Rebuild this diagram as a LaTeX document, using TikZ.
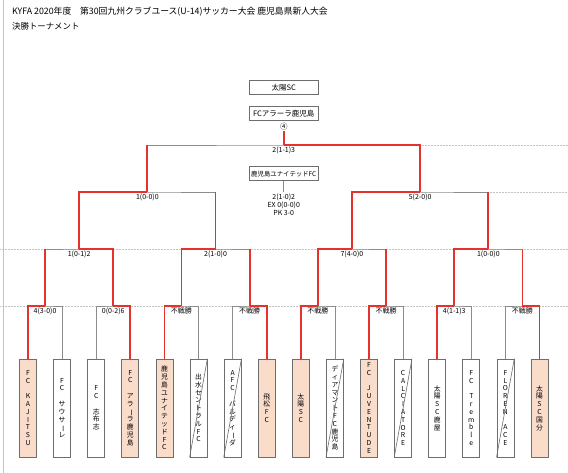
\documentclass[tikz,border=0pt]{standalone}
\usepackage{fontspec}
\setmainfont{Noto Sans CJK JP}
\usetikzlibrary{positioning}
\definecolor{winred}{HTML}{E5322D}
\definecolor{linegray}{HTML}{8C8C8C}
\definecolor{boxgray}{HTML}{6E6E6E}
\definecolor{peach}{HTML}{FADCCB}
\definecolor{gridgray}{HTML}{C4C4C4}
\newcommand\chouon{\rotatebox[origin=c]{-90}{ー}}
\tikzset{
  teambox/.style={draw=boxgray,line width=0.8pt,minimum width=17pt,minimum height=98pt,inner sep=0pt,align=center,font=\fontsize{6.8}{7.8}\selectfont},
  topbox/.style={draw=boxgray,line width=1pt,fill=white,minimum width=69pt,minimum height=14pt,inner sep=1pt,font=\fontsize{7.5}{8}\selectfont},
  score/.style={font=\fontsize{7}{8}\selectfont,inner sep=1.5pt,align=center},
  win/.style={draw=winred,line width=1.8pt},
  lose/.style={draw=linegray,line width=0.8pt},
  gridline/.style={draw=gridgray,line width=0.5pt,densely dotted}
}
\begin{document}
\begin{tikzpicture}[x=1pt,y=-1pt]
    \useasboundingbox (0,0) rectangle (568,473);
    \draw[gridgray,line width=0.6pt] (3,0) -- (3,473);
    \draw[gridline] (0,249) -- (568,249);
    \draw[gridline] (0,306) -- (568,306);
    \draw[gridline] (420,145) -- (568,145);
    \draw[gridline] (488,192) -- (568,192);

    \node[anchor=west,inner sep=0pt,font=\fontsize{8.8}{10}\selectfont] (title) at (12,12) {KYFA 2020年度　第30回九州クラブユース(U-14)サッカー大会 鹿児島県新人大会};
    \node[anchor=west,inner sep=0pt,font=\fontsize{8.4}{10}\selectfont] (subtitle) at (12,26) {決勝トーナメント};

    \foreach \f/\s/\t [count=\i] in {
      peach/0/{F\\C\\~\\K\\A\\J\\I\\T\\S\\U},
      white/0/{F\\C\\~\\サ\\ウ\\サ\\\chouon\\レ},
      white/0/{F\\C\\~\\志\\布\\志},
      peach/0/{F\\C\\~\\ア\\ラ\\\chouon\\ラ\\鹿\\児\\島},
      peach/0/{鹿\\児\\島\\ユ\\ナ\\イ\\テ\\ッ\\ド\\F\\C},
      white/1/{出\\水\\セ\\ン\\ト\\ラ\\ル\\F\\C},
      white/1/{A\\F\\C\\~\\バ\\ル\\デ\\ィ\\\chouon\\ダ},
      peach/0/{飛\\松\\F\\C},
      peach/0/{太\\陽\\S\\C},
      white/1/{デ\\ィ\\ア\\マ\\ン\\ト\\F\\C\\鹿\\児\\島},
      peach/0/{F\\C\\~\\J\\U\\V\\E\\N\\T\\U\\D\\E},
      white/1/{C\\A\\L\\C\\I\\A\\T\\O\\R\\E},
      white/0/{太\\陽\\S\\C\\鹿\\屋},
      white/0/{F\\C\\~\\T\\r\\e\\m\\b\\l\\e},
      white/1/{F\\L\\O\\R\\E\\N\\~\\A\\C\\E},
      peach/0/{太\\陽\\S\\C\\国\\分}}{
      \node[teambox,fill=\f] (b\i) at ({28+34.1*(\i-1)},408) {\t};
      \ifnum\s=1 \draw[boxgray,line width=0.6pt] (b\i.south west) -- (b\i.north east);\fi
    }

    \foreach \m in {1,...,8} \coordinate (r\m) at ({28+34.1*(2*\m-1.5)},306);
    \foreach \k in {1,...,4} \coordinate (q\k) at ({28+34.1*(4*\k-2.5)},249);
    \foreach \j in {1,2} \coordinate (s\j) at ({28+34.1*(8*\j-4.5)},192);
    \coordinate (f) at (283.75,145);

    \foreach \m [evaluate=\m as \a using int(2*\m-1),evaluate=\m as \b using int(2*\m)] in {1,...,8}
      \draw[lose] (b\a.north) |- (r\m) -| (b\b.north);
    \foreach \k [evaluate=\k as \a using int(2*\k-1),evaluate=\k as \b using int(2*\k)] in {1,...,4}
      \draw[lose] (r\a) |- (q\k) -| (r\b);
    \draw[lose] (q1) |- (s1) -| (q2);
    \draw[lose] (q3) |- (s2) -| (q4);
    \draw[lose] (s1) |- (f) -| (s2);

    \foreach \w/\m in {1/1,4/2,5/3,8/4,9/5,11/6,13/7,16/8}
      \draw[win] (b\w.north) |- (r\m);
    \foreach \m in {1,...,8} \draw[win] (r\m) -- (r\m |- q1);
    \foreach \w/\k in {2/1,3/2,5/3,7/4} \draw[win] (r\w) |- (q\k);
    \foreach \k in {1,...,4} \draw[win] (q\k) -- (q\k |- s1);
    \draw[win] (q1) |- (s1);
    \draw[win] (q3) |- (s2);
    \draw[win] (s1) -- (s1 |- f);
    \draw[win] (s2) |- (f);

    \foreach \l [count=\m] in {4(3-0)0,0(0-2)6,不戦勝,不戦勝,不戦勝,不戦勝,4(1-1)3,不戦勝}
      \node[score,below] (rl\m) at (r\m) {\l};
    \foreach \l [count=\k] in {1(0-1)2,2(1-0)0,7(4-0)0,1(0-0)0}
      \node[score,below] (ql\k) at (q\k) {\l};
    \node[score,below] (sl1) at (s1) {1(0-0)0};
    \node[score,below] (sl2) at (s2) {5(2-0)0};
    \node[score,below] (fl) at (f) {2(1-1)3};

    \node[topbox] (champ) at (283.75,88) {太陽SC};
    \node[topbox] (runner) at (283.75,114) {FCアラーラ鹿児島};
    \node[inner sep=0.5pt,font=\fontsize{7.5}{8}\selectfont] (rank) at (283.75,126.5) {④};
    \draw[win] (rank.south) -- (f);

    \node[topbox,font=\fontsize{6.4}{7}\selectfont] (third) at (283.75,174) {鹿児島ユナイテッドFC};
    \coordinate (thirdfoot) at (283.75,192);
    \draw[lose] (third) -- (thirdfoot);
    \node[score,below=0pt of thirdfoot] (pk) {2(1-0)2\\EX 0(0-0)0\\PK 3-0};
  \end{tikzpicture}
\end{document}
